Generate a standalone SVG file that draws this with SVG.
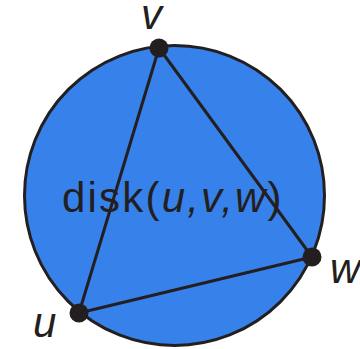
<svg xmlns="http://www.w3.org/2000/svg" width="360" height="349" viewBox="0 0 360 349">
<style>
.edge{stroke:#231f20;stroke-width:3;fill:none;stroke-linecap:round}
.dot{fill:#231f20}
.lbl{font-family:"Liberation Sans",Arial,sans-serif;font-size:42px;fill:#231f20}
.it{font-style:italic}
</style>
<rect width="360" height="349" fill="#ffffff"/>
<g id="disk">
<circle cx="174.5" cy="195.5" r="150" fill="#3781ea" stroke="#231f20" stroke-width="3"/>
<text class="lbl" x="62" y="212" letter-spacing="2.2">disk(<tspan class="it">u,v,w</tspan>)</text>
</g>
<g id="connectors">
<line class="edge" x1="159" y1="48" x2="312" y2="257"/>
<line class="edge" x1="312" y1="257" x2="79" y2="313"/>
<line class="edge" x1="79" y1="313" x2="159" y2="48"/>
</g>
<g id="node-v">
<circle class="dot" cx="159" cy="48" r="9.5"/>
<text class="lbl it" x="141" y="29">v</text>
</g>
<g id="node-w">
<circle class="dot" cx="312" cy="257" r="9.5"/>
<text class="lbl it" x="330" y="283">w</text>
</g>
<g id="node-u">
<circle class="dot" cx="79" cy="313" r="9.5"/>
<text class="lbl it" x="33" y="337">u</text>
</g>
</svg>
